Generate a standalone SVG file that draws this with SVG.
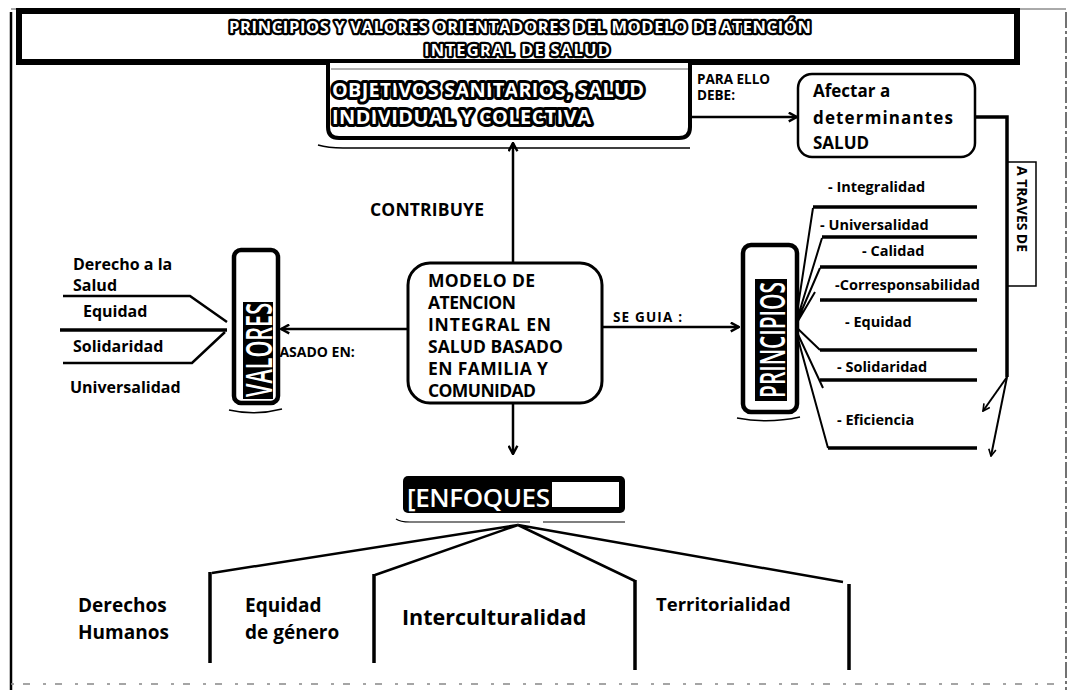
<svg xmlns="http://www.w3.org/2000/svg" width="1072" height="690" viewBox="0 0 1072 690">
  <style>
    .t{font-family:"Open Sans","Noto Sans","DejaVu Sans",sans-serif;font-weight:700;fill:#000}
    .halo{fill:#fff;stroke:#000;stroke-width:6;stroke-linejoin:round;paint-order:stroke}
    .inv{font-family:"Open Sans","Noto Sans","DejaVu Sans",sans-serif;font-weight:600;fill:#fff}
    .ln{fill:none;stroke:#000;stroke-width:2.5}
    .hz{fill:none;stroke:#000;stroke-width:3.5}
    .dg{fill:none;stroke:#000;stroke-width:2}
    .box{fill:#fff;stroke:#000}
  </style>
  <defs>
    <marker id="arr" viewBox="0 0 10 10" refX="9" refY="5" markerWidth="11" markerHeight="11" markerUnits="userSpaceOnUse" orient="auto">
      <path d="M1.5,1 L9,5 L1.5,9" fill="none" stroke="#000" stroke-width="2.2"/>
    </marker>
    <marker id="arrs" viewBox="0 0 10 10" refX="9" refY="5" markerWidth="9" markerHeight="9" markerUnits="userSpaceOnUse" orient="auto">
      <path d="M1.5,1 L9,5 L1.5,9" fill="none" stroke="#000" stroke-width="1.8"/>
    </marker>
  </defs>

  <rect width="1072" height="690" fill="#fff"/>

  <!-- page frame -->
  <g id="frame">
    <line x1="11" y1="12" x2="11" y2="690" stroke="#000" stroke-width="2.5"/>
    <line x1="11" y1="9" x2="1066" y2="9" stroke="#555" stroke-width="1"/>
    <line x1="1066" y1="12" x2="1066" y2="690" stroke="#444" stroke-width="1.5" stroke-dasharray="16 3 3 3"/>
    <line x1="11" y1="684" x2="1066" y2="684" stroke="#888" stroke-width="1.5" stroke-dasharray="3 9 7 13"/>
  </g>

  <!-- title banner -->
  <g id="titulo">
    <rect class="box" x="19" y="11" width="998" height="51" stroke-width="6"/>
    <text class="t halo" x="520" y="33" font-size="16.5" text-anchor="middle" textLength="582" style="stroke-width:4.5">PRINCIPIOS Y VALORES ORIENTADORES DEL MODELO DE ATENCIÓN</text>
    <text class="t halo" x="517" y="56" font-size="16.5" text-anchor="middle" textLength="186" style="stroke-width:4.5">INTEGRAL DE SALUD</text>
  </g>

  <!-- connectors and their labels -->
  <g id="conectores">
    <line class="ln" x1="513" y1="263" x2="513" y2="143" marker-end="url(#arr)"/>
    <line class="ln" x1="602" y1="327" x2="739" y2="327" marker-end="url(#arr)"/>
    <line class="ln" x1="408" y1="329" x2="281" y2="329" marker-end="url(#arr)"/>
    <line class="ln" x1="513" y1="403" x2="513" y2="454" marker-end="url(#arr)"/>
    <line class="ln" x1="690" y1="117" x2="797" y2="117" marker-end="url(#arr)"/>
    <path class="hz" d="M964,117 H1007 V377"/>
    <line class="dg" x1="1007" y1="377" x2="983" y2="411" marker-end="url(#arrs)"/>
    <line class="dg" x1="1007" y1="377" x2="991" y2="456" marker-end="url(#arrs)"/>
    <path fill="none" stroke="#000" stroke-width="1.5" d="M1007,162 H1036 V286 H1007"/>

    <text class="t" x="370" y="216" font-size="17.5" textLength="114">CONTRIBUYE</text>
    <text class="t" x="613" y="322" font-size="13.5" textLength="69">SE GUIA :</text>
    <text class="t" x="270" y="357" font-size="14">BASADO EN:</text>
    <text class="t" x="697" y="84" font-size="13.5">PARA ELLO</text>
    <text class="t" x="697" y="100" font-size="13.5">DEBE:</text>
    <text class="t" transform="translate(1017,209) rotate(90)" font-size="14" text-anchor="middle" textLength="86">A TRAVES DE</text>

    <!-- values fan -->
    <path class="ln" d="M63,296 H190 L227,322"/>
    <path class="hz" d="M60,330 H227"/>
    <path class="ln" d="M225,332 L192,363 H63"/>

    <!-- principles fan -->
    <path class="dg" d="M795,326 L813,208 M795,326 L822,238 M795,326 L820,268 M795,326 L815,292 M795,326 L820,350 M795,328 L823,388 M795,328 L828,448"/>
    <path class="hz" d="M813,207 H977 M822,237 H977 M820,267 H977 M820,300 H977 M820,350 H977 M820,380 H977 M828,448 H977"/>

    <!-- approaches fan -->
    <path class="ln" d="M518,525 L212,573 M518,525 L375,575 M518,525 L635,581 M518,525 L843,582"/>
    <path class="hz" d="M210,572 V663 M374,574 V663 M635,580 V670 M849,584 V670"/>
  </g>

  <!-- health objectives -->
  <g id="objetivos">
    <path fill="#fff" stroke="#000" stroke-width="4" d="M328,63 V127 Q328,138 339,138 H679 Q690,138 690,127 V63"/>
    <line x1="331" y1="69" x2="688" y2="69" stroke="#666" stroke-width="1"/>
    <path fill="none" stroke="#000" stroke-width="1.5" d="M318,145 Q328,148 343,148 H690"/>
    <text class="t halo" x="332" y="97" font-size="20" textLength="312">OBJETIVOS SANITARIOS, SALUD</text>
    <text class="t halo" x="332" y="124" font-size="20" textLength="259">INDIVIDUAL Y COLECTIVA</text>
  </g>

  <!-- central model -->
  <g id="modelo">
    <rect class="box" x="408" y="263" width="194" height="140" rx="22" stroke-width="3"/>
    <text class="t" x="428" y="287" font-size="17.5" textLength="107">MODELO DE</text>
    <text class="t" x="428" y="309" font-size="17.5" textLength="88">ATENCION</text>
    <text class="t" x="428" y="331" font-size="17.5" textLength="123">INTEGRAL EN</text>
    <text class="t" x="428" y="353" font-size="17.5" textLength="135">SALUD BASADO</text>
    <text class="t" x="428" y="375" font-size="17.5" textLength="120">EN FAMILIA Y</text>
    <text class="t" x="428" y="397" font-size="17.5" textLength="108">COMUNIDAD</text>
  </g>

  <!-- determinants -->
  <g id="determinantes">
    <rect class="box" x="798" y="74" width="177" height="83" rx="14" stroke-width="2.5"/>
    <text class="t" x="813" y="97" font-size="17">Afectar a</text>
    <text class="t" x="813" y="124" font-size="17" textLength="140">determinantes</text>
    <text class="t" x="813" y="149" font-size="17">SALUD</text>
  </g>

  <!-- values -->
  <g id="valores">
    <rect class="box" x="234" y="250" width="44" height="153" rx="7" stroke-width="4.5"/>
    <rect x="243" y="302" width="30" height="97" fill="#000"/>
    <text class="inv" transform="translate(272,350) rotate(-90)" font-size="36" text-anchor="middle" textLength="94" lengthAdjust="spacingAndGlyphs">VALORES</text>
    <path fill="none" stroke="#000" stroke-width="1.5" d="M229,410 Q255,416 282,409"/>
  </g>
  <g id="valores-items">
    <text class="t" x="73" y="270" font-size="16">Derecho a la</text>
    <text class="t" x="73" y="291" font-size="16">Salud</text>
    <text class="t" x="83" y="317" font-size="16">Equidad</text>
    <text class="t" x="73" y="352" font-size="16">Solidaridad</text>
    <text class="t" x="70" y="393" font-size="16">Universalidad</text>
  </g>

  <!-- principles -->
  <g id="principios">
    <rect class="box" x="743" y="245" width="54" height="167" rx="8" stroke-width="4.5"/>
    <rect x="755" y="279" width="32" height="122" fill="#000"/>
    <text class="inv" transform="translate(785,340) rotate(-90)" font-size="34" text-anchor="middle" textLength="116" lengthAdjust="spacingAndGlyphs">PRINCIPIOS</text>
    <path fill="none" stroke="#000" stroke-width="1.5" d="M737,418 Q768,424 800,417"/>
  </g>
  <g id="principios-items">
    <text class="t" x="828" y="192" font-size="14.5">- Integralidad</text>
    <text class="t" x="820" y="230" font-size="14.5">- Universalidad</text>
    <text class="t" x="862" y="256" font-size="14.5">- Calidad</text>
    <text class="t" x="835" y="290" font-size="14.5">-Corresponsabilidad</text>
    <text class="t" x="845" y="327" font-size="14.5">- Equidad</text>
    <text class="t" x="837" y="372" font-size="14.5">- Solidaridad</text>
    <text class="t" x="837" y="425" font-size="14.5">- Eficiencia</text>
  </g>

  <!-- approaches -->
  <g id="enfoques">
    <rect x="403" y="476" width="222" height="37" rx="5" fill="#000"/>
    <rect x="552" y="482" width="67" height="25" fill="#fff"/>
    <text class="inv" x="407" y="507" font-size="26" textLength="143">[ENFOQUES</text>
    <path fill="none" stroke="#000" stroke-width="1.2" d="M396,519 Q400,522 410,522 H530 M543,522 H625"/>
  </g>
  <g id="enfoques-items">
    <text class="t" x="78" y="612" font-size="19">Derechos</text>
    <text class="t" x="78" y="639" font-size="19">Humanos</text>
    <text class="t" x="245" y="612" font-size="19">Equidad</text>
    <text class="t" x="245" y="639" font-size="19">de género</text>
    <text class="t" x="402" y="625" font-size="21.5">Interculturalidad</text>
    <text class="t" x="656" y="611" font-size="18.5">Territorialidad</text>
  </g>
</svg>
